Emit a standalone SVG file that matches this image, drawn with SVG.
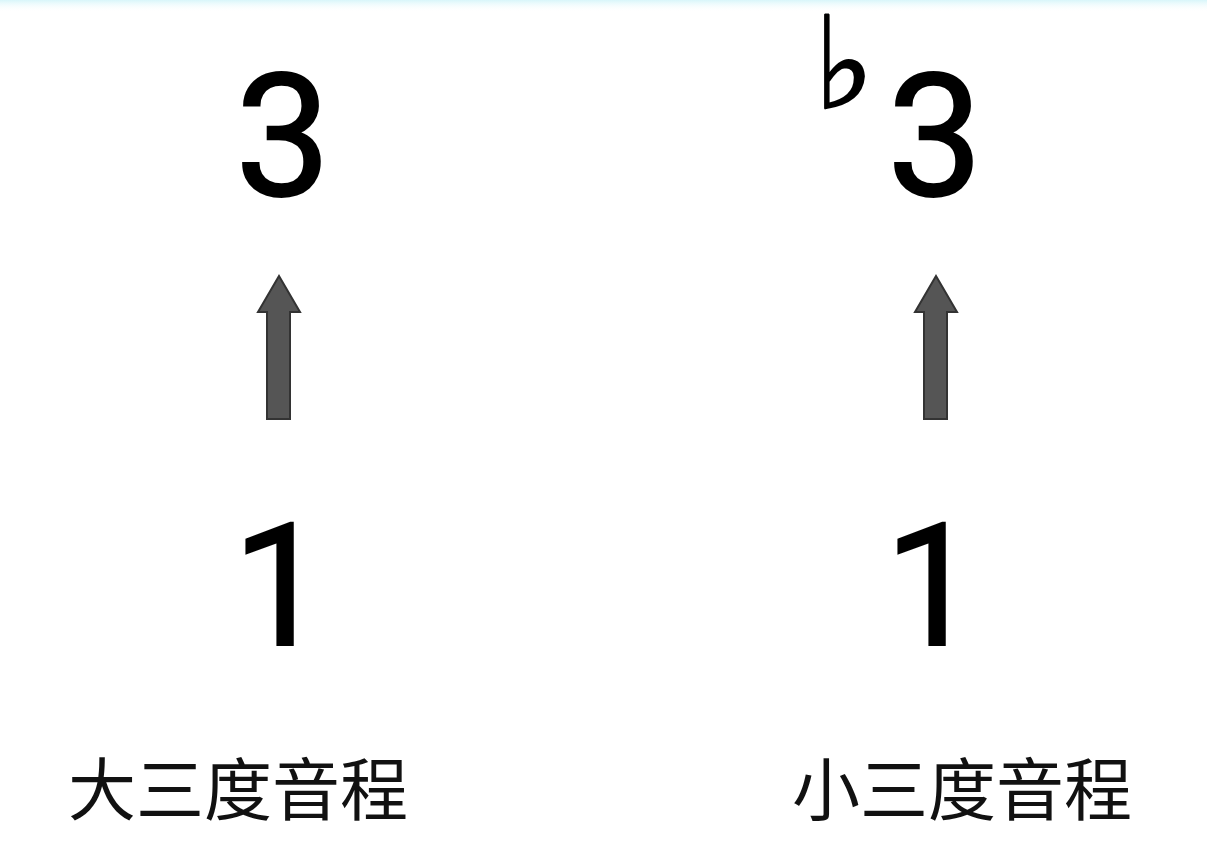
<svg xmlns="http://www.w3.org/2000/svg" width="1207" height="856" viewBox="0 0 1207 856">
  <defs>
    <linearGradient id="topg" x1="0" y1="0" x2="0" y2="1">
      <stop offset="0" stop-color="#d8f6fa"/>
      <stop offset="1" stop-color="#ffffff" stop-opacity="0"/>
    </linearGradient>
    <style>
      .num { font-family: Roboto, "Liberation Sans", sans-serif; font-size: 170px; fill: #000; stroke: #000; stroke-width: 2; text-anchor: middle; }
      .lbl { font-family: "Noto Sans CJK SC", "Noto Sans CJK TC", sans-serif; font-size: 68px; fill: #111; }
      .flat { font-family: "DejaVu Sans", sans-serif; font-size: 128px; fill: #000; stroke: #000; stroke-width: 2; }
      .arrow { fill: #555; stroke: #333; stroke-width: 2; }
    </style>
  </defs>
  <rect width="1207" height="856" fill="#fff"/>
  <rect width="1207" height="12" fill="url(#topg)"/>
  <g id="node-major-3"><text class="num" x="283" y="195">3</text></g>
  <g id="node-major-1"><text class="num" x="280" y="645">1</text></g>
  <g id="node-minor-3">
    <text class="flat" x="814" y="108">♭</text>
    <text class="num" x="935" y="195">3</text>
  </g>
  <g id="node-minor-1"><text class="num" x="932" y="645">1</text></g>
  <g id="label-major"><text class="lbl" x="68" y="815">大三度音程</text></g>
  <g id="label-minor"><text class="lbl" x="792" y="815">小三度音程</text></g>
  <g id="connectors">
    <path class="arrow" d="M279,276 L300,312 L290,312 L290,419 L267,419 L267,312 L258,312 Z"/>
    <path class="arrow" d="M936,276 L957,312 L947,312 L947,419 L924,419 L924,312 L915,312 Z"/>
  </g>
</svg>
